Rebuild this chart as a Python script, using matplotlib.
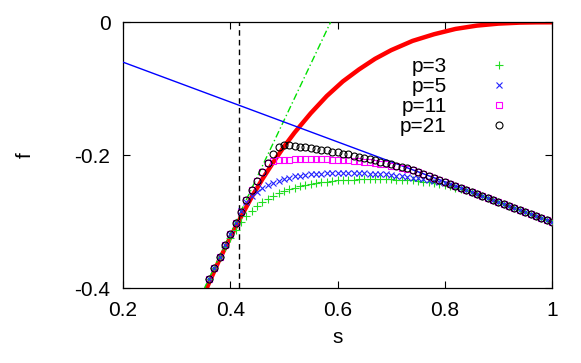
import numpy as np
import matplotlib
matplotlib.use("Agg")
import matplotlib.pyplot as plt

plt.rcParams["font.family"] = ["Liberation Sans", "DejaVu Sans"]
plt.rcParams["axes.unicode_minus"] = False

# s grid of the data points (step 0.01)
s_pts = np.round(np.arange(36, 101) / 100, 2)

f_p3 = [-0.386, -0.370, -0.353, -0.338, -0.324, -0.312, -0.301, -0.292, -0.284, -0.277,   # 0.36-0.45
        -0.271, -0.266, -0.261, -0.257, -0.254, -0.251, -0.249, -0.247, -0.245, -0.244,   # 0.46-0.55
        -0.242, -0.241, -0.240, -0.239, -0.238, -0.238, -0.237, -0.237, -0.236, -0.236,   # 0.56-0.65
        -0.236, -0.236, -0.236, -0.236, -0.236, -0.237, -0.237, -0.237, -0.238, -0.239,   # 0.66-0.75
        -0.240, -0.241, -0.242, -0.243, -0.245, -0.247, -0.249, -0.251, -0.253, -0.256,   # 0.76-0.85
        -0.259, -0.261, -0.264, -0.267, -0.270, -0.273, -0.276, -0.279, -0.282, -0.285,   # 0.86-0.95
        -0.288, -0.291, -0.294, -0.297, -0.300]                                           # 0.96-1.00
f_p5 = [-0.386, -0.370, -0.353, -0.336, -0.319, -0.302, -0.284, -0.271, -0.262, -0.255,
        -0.250, -0.245, -0.242, -0.239, -0.236, -0.234, -0.232, -0.231, -0.230, -0.229,
        -0.228, -0.228, -0.227, -0.227, -0.227, -0.227, -0.227, -0.227, -0.227, -0.227,
        -0.228, -0.228, -0.229, -0.229, -0.230, -0.231, -0.232, -0.233, -0.234, -0.235,
        -0.236, -0.237, -0.239, -0.240, -0.242, -0.244, -0.246, -0.249, -0.252, -0.255,
        -0.258, -0.261, -0.264, -0.267, -0.270, -0.273, -0.276, -0.279, -0.282, -0.285,
        -0.288, -0.291, -0.294, -0.297, -0.300]
f_p11 = [-0.386, -0.370, -0.353, -0.336, -0.319, -0.302, -0.285, -0.268, -0.252, -0.239,
         -0.226, -0.212, -0.209, -0.208, -0.207, -0.207, -0.206, -0.206, -0.206, -0.206,
         -0.206, -0.206, -0.206, -0.207, -0.207, -0.208, -0.208, -0.209, -0.209, -0.210,
         -0.211, -0.212, -0.213, -0.214, -0.216, -0.217, -0.219, -0.221, -0.223, -0.225,
         -0.228, -0.231, -0.234, -0.237, -0.240, -0.243, -0.246, -0.249, -0.252, -0.255,
         -0.258, -0.261, -0.264, -0.267, -0.270, -0.273, -0.276, -0.279, -0.282, -0.285,
         -0.288, -0.291, -0.294, -0.297, -0.300]
f_p21 = [-0.386, -0.370, -0.353, -0.336, -0.319, -0.302, -0.285, -0.268, -0.252, -0.239,
         -0.226, -0.212, -0.199, -0.188, -0.185, -0.185, -0.186, -0.187, -0.188, -0.189,
         -0.190, -0.192, -0.193, -0.195, -0.196, -0.198, -0.199, -0.201, -0.203, -0.204,
         -0.206, -0.208, -0.210, -0.212, -0.214, -0.216, -0.218, -0.220, -0.222, -0.225,
         -0.228, -0.231, -0.234, -0.237, -0.240, -0.243, -0.246, -0.249, -0.252, -0.255,
         -0.258, -0.261, -0.264, -0.267, -0.270, -0.273, -0.276, -0.279, -0.282, -0.285,
         -0.288, -0.291, -0.294, -0.297, -0.300]

# red curve
s_red = [0.35, 0.36, 0.38, 0.40, 0.42, 0.44, 0.46, 0.48, 0.50, 0.52, 0.55, 0.58,
         0.61, 0.64, 0.67, 0.70, 0.74, 0.78, 0.82, 0.86, 0.90, 0.94, 0.97, 1.00]
f_red = [-0.412, -0.393, -0.357, -0.324, -0.293, -0.263, -0.236, -0.211, -0.1875, -0.166,
         -0.137, -0.111, -0.089, -0.071, -0.055, -0.042, -0.028, -0.018, -0.010, -0.005,
         -0.002, -0.0005, -0.0001, 0.0]

# straight lines
s_tan = [0.352, 0.587]
f_tan = [-0.40, 0.0]
s_blue = [0.2, 1.0]
f_blue = [-0.06, -0.30]
s_vline = 0.416

labels = ["p=3", "p=5", "p=11", "p=21"]
x_ticks = [0.2, 0.4, 0.6, 0.8, 1.0]
x_tick_labels = ["0.2", "0.4", "0.6", "0.8", "1"]
y_ticks = [-0.4, -0.2, 0.0]
y_tick_labels = ["-0.4", "-0.2", "0"]

fig = plt.figure(figsize=(5.81, 3.63), dpi=100)
ax = fig.add_axes([0.2117, 0.2066, 0.7384, 0.732])

ax.plot(s_red, f_red, color="#ff0000", lw=3.2, zorder=2)
ax.plot(s_tan, f_tan, color="#00e000", lw=1, dashes=(5, 2, 1, 2), zorder=3)
ax.plot(s_blue, f_blue, color="#0000ff", lw=1, zorder=3)
ax.axvline(s_vline, color="black", lw=1, dashes=(4, 3), zorder=3)

ax.plot(s_pts, f_p3, ls="none", marker="+", ms=6, mew=0.8, color="#22dd22", label=labels[0], zorder=4)
ax.plot(s_pts, f_p5, ls="none", marker="x", ms=4.5, mew=0.8, color="#2222ff", label=labels[1], zorder=4)
ax.plot(s_pts, f_p11, ls="none", marker="s", ms=4.8, mew=0.8, color="#ff00ff", mfc="none", label=labels[2], zorder=4)
ax.plot(s_pts, f_p21, ls="none", marker="o", ms=5, mew=0.8, color="black", mfc="none", label=labels[3], zorder=4)

ax.set_xlim(0.2, 1.0)
ax.set_ylim(-0.4, 0.0)
ax.set_xticks(x_ticks, x_tick_labels)
ax.set_yticks(y_ticks, y_tick_labels)
ax.tick_params(direction="in", top=True, right=True, length=5, width=0.8, labelsize=15, pad=9)
for sp in ax.spines.values():
    sp.set_linewidth(0.9)

ax.set_xlabel("s", fontsize=15)
ax.set_ylabel("f", fontsize=15)
ax.xaxis.set_label_coords(0.5, -0.15)
ax.yaxis.set_label_coords(-0.205, 0.5)

leg = ax.legend(loc="upper right", bbox_to_anchor=(0.925, 0.868), markerfirst=False, frameon=False,
                fontsize=15, handlelength=2.0, handletextpad=1.5, labelspacing=0.05, borderpad=0,
                borderaxespad=0)

fig.savefig("out.png", dpi=100)
